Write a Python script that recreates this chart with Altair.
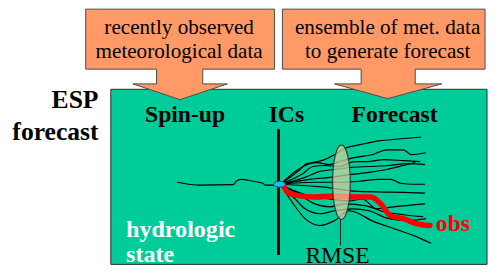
import altair as alt
import pandas as pd
import numpy as np

# ---------------- data (image pixel coordinates) ----------------
# orange call-out arrows (polygon outlines)
arrow_left_x = [87, 279, 279, 206, 206, 231, 183, 135, 159, 159, 87, 87]
arrow_left_y = [7, 7, 68, 68, 83, 83, 99, 83, 83, 68, 68, 7]
arrow_right_x = [287, 493, 493, 422, 422, 449, 394, 340, 367, 367, 287, 287]
arrow_right_y = [7, 7, 68, 68, 83, 83, 98, 83, 83, 68, 68, 7]

# green panel
panel = dict(x=112.5, x2=495, y=88.5, y2=266.5)

# spin-up trajectory
spin_x = [180, 203, 237, 240, 245, 257, 267, 270, 280, 284]
spin_y = [183, 186, 185.5, 182, 180, 182, 184, 186, 186, 185]

# ensemble traces (x list, y list)
ens = [
    ([285, 300, 310, 318, 330, 340, 352, 365, 385, 405, 428],
     [185, 172, 166, 163, 160, 155, 148, 145, 141, 139, 137]),
    ([285, 305, 312, 322, 335, 345, 360, 378, 393, 410, 418, 433],
     [185, 170, 164, 163, 165, 162, 158, 155, 150, 150, 155, 153]),
    ([285, 308, 318, 330, 345, 360, 373, 390, 410, 427],
     [185, 174, 167, 166, 167, 162, 162, 160, 161, 162]),
    ([285, 310, 325, 340, 355, 375, 395, 415, 432],
     [185, 178, 172, 170, 168, 167, 166, 164, 165]),
    ([285, 315, 335, 357, 375, 393, 410, 422],
     [185, 180, 178, 175, 173, 170, 166, 163]),
    ([285, 320, 345, 365, 385, 397, 407, 420, 432],
     [185, 183, 183, 182, 180, 180, 184, 185, 185]),
    ([285, 330, 360, 395, 432],
     [185, 188, 192, 193, 194]),
    ([285, 300, 315, 335, 355, 368, 383, 400, 432],
     [185, 192, 197, 200, 202, 200, 210, 208, 205]),
    ([285, 305, 320, 335, 350, 372, 390, 410, 430],
     [185, 196, 205, 208, 205, 207, 213, 216, 218]),
    ([285, 300, 310, 325, 340, 358, 375, 395, 415, 433],
     [185, 200, 210, 215, 212, 210, 212, 220, 222, 220]),
    ([285, 298, 310, 325, 340, 355, 380, 400, 420, 438],
     [185, 205, 220, 227, 222, 212, 223, 230, 237, 245]),
]

# observed trajectory
obs_x = [288, 292, 300, 320, 340, 360, 377, 387, 397, 410, 423, 437]
obs_y = [186, 193, 196, 198, 197, 198, 198, 205, 217, 220, 225, 227]

# ICs line, RMSE ellipse, initial state
ics_x, ics_y1, ics_y2 = 283, 129, 257
ell_cx, ell_cy, ell_rx, ell_ry = 347, 183, 9, 38
rmse_stem_y2 = 247
dot_cx, dot_cy = 284, 185
hatch_y = [150, 156, 162, 168, 174, 180, 186, 192, 198, 204, 210, 216]

# texts
box_text = ["recently observed", "meteorological data", "ensemble of met. data", "to generate forecast"]
box_text_x = [182, 182, 394, 394]
box_text_y = [32, 57, 32, 57]
esp_text = ["ESP", "forecast"]
esp_text_y = [108, 140]
phase_text = ["Spin-up", "ICs", "Forecast"]
phase_text_x = [188, 291, 401]
state_text = ["hydrologic", "state"]
state_text_y = [239, 264]

# ---------------- scales: data units == image pixels ----------------
X = lambda f="x": alt.X(f"{f}:Q", scale=alt.Scale(domain=[8, 496], range=[0, 488], nice=False, zero=False), axis=None)
Y = lambda f="y": alt.Y(f"{f}:Q", scale=alt.Scale(domain=[8, 267], range=[0, 259], nice=False, zero=False), axis=None)
FONT = "Liberation Serif"

# panel
panel_df = pd.DataFrame([panel])
panel_layer = alt.Chart(panel_df).mark_rect(fill="#00CC99", stroke="#2b2b2b", strokeWidth=1).encode(
    x=X(), x2="x2:Q", y=Y(), y2="y2:Q")

# arrows
arr_rows = []
for k, (xs, ys) in enumerate([(arrow_left_x, arrow_left_y), (arrow_right_x, arrow_right_y)]):
    for i, (a, b) in enumerate(zip(xs, ys)):
        arr_rows.append(dict(id=k, i=i, x=a, y=b))
arrow_layer = alt.Chart(pd.DataFrame(arr_rows)).mark_line(
    fill="#FF9966", stroke="#4a4a4a", strokeWidth=1, interpolate="linear-closed").encode(
    x=X(), y=Y(), detail="id:N", order="i:Q")

# ICs vertical line
ics_layer = alt.Chart(pd.DataFrame([dict(x=ics_x, y=ics_y1, y2=ics_y2)])).mark_rule(
    color="black", strokeWidth=3).encode(x=X(), y=Y(), y2="y2:Q")

# spin-up line
spin_layer = alt.Chart(pd.DataFrame(dict(x=spin_x, y=spin_y, i=range(len(spin_x))))).mark_line(
    color="black", strokeWidth=1.2, interpolate="monotone").encode(x=X(), y=Y(), order="i:Q")

# ensemble
ens_rows = []
for k, (xs, ys) in enumerate(ens):
    for i, (a, b) in enumerate(zip(xs, ys)):
        ens_rows.append(dict(id=k, i=i, x=a, y=b))
ens_layer = alt.Chart(pd.DataFrame(ens_rows)).mark_line(
    color="black", strokeWidth=1.2, interpolate="monotone").encode(
    x=X(), y=Y(), detail="id:N", order="i:Q")

# obs
obs_layer = alt.Chart(pd.DataFrame(dict(x=obs_x, y=obs_y, i=range(len(obs_x))))).mark_line(
    color="#FF0000", strokeWidth=5.5, interpolate="monotone", strokeCap="round").encode(
    x=X(), y=Y(), order="i:Q")

# RMSE ellipse
a = ell_rx / ell_ry
k = 0.5523
ell_path = (f"M0,-1 C{a*k:.4f},-1 {a:.4f},-{k} {a:.4f},0 C{a:.4f},{k} {a*k:.4f},1 0,1 "
            f"C-{a*k:.4f},1 -{a:.4f},{k} -{a:.4f},0 C-{a:.4f},-{k} -{a*k:.4f},-1 0,-1 Z")
ell_df = pd.DataFrame([dict(x=ell_cx, y=ell_cy)])
ell_layer = alt.Chart(ell_df).mark_point(
    shape=ell_path, size=(2 * ell_ry) ** 2, filled=True, fill="#E2D4A6", fillOpacity=0.68,
    stroke="#2f3f2f", strokeWidth=1.2, opacity=1).encode(x=X(), y=Y())

hy = np.array(hatch_y, dtype=float)
hw = ell_rx * np.sqrt(np.clip(1 - ((hy - ell_cy) / ell_ry) ** 2, 0, 1)) - 1
hatch_df = pd.DataFrame(dict(x=ell_cx - hw, x2=ell_cx + hw, y=hy))
hatch_layer = alt.Chart(hatch_df).mark_rule(color="#E8A878", strokeWidth=1, opacity=0.55).encode(
    x=X(), x2="x2:Q", y=Y())
vhatch_layer = alt.Chart(pd.DataFrame([dict(x=ell_cx, y=ell_cy - ell_ry + 3, y2=ell_cy + ell_ry - 3)])).mark_rule(
    color="#E8A878", strokeWidth=1, opacity=0.6).encode(x=X(), y=Y(), y2="y2:Q")

stem_layer = alt.Chart(pd.DataFrame([dict(x=ell_cx - 1, y=ell_cy + ell_ry, y2=rmse_stem_y2)])).mark_rule(
    color="#1a1a1a", strokeWidth=1).encode(x=X(), y=Y(), y2="y2:Q")

# initial-condition dot
dot_path = "M0,-0.5 C0.5523,-0.5 1,-0.276 1,0 C1,0.276 0.5523,0.5 0,0.5 C-0.5523,0.5 -1,0.276 -1,0 C-1,-0.276 -0.5523,-0.5 0,-0.5 Z"
dot_layer = alt.Chart(pd.DataFrame([dict(x=dot_cx, y=dot_cy)])).mark_point(
    shape=dot_path, size=144, filled=True, fill="#22BBEE", stroke="#1f4e79", strokeWidth=1, opacity=1).encode(
    x=X(), y=Y())

# texts
box_txt = alt.Chart(pd.DataFrame(dict(t=box_text, x=box_text_x, y=box_text_y))).mark_text(
    font=FONT, fontSize=21.5, color="black", align="center", baseline="alphabetic").encode(
    x=X(), y=Y(), text="t:N")
esp_txt = alt.Chart(pd.DataFrame(dict(t=esp_text, x=[100, 100], y=esp_text_y))).mark_text(
    font=FONT, fontSize=26, fontWeight="bold", color="black", align="right", baseline="alphabetic").encode(
    x=X(), y=Y(), text="t:N")
phase_txt = alt.Chart(pd.DataFrame(dict(t=phase_text, x=phase_text_x, y=[122] * 3))).mark_text(
    font=FONT, fontSize=24, fontWeight="bold", color="black", align="center", baseline="alphabetic").encode(
    x=X(), y=Y(), text="t:N")
rmse_txt = alt.Chart(pd.DataFrame(dict(t=["RMSE"], x=[343], y=[265]))).mark_text(
    font=FONT, fontSize=24, color="black", align="center", baseline="alphabetic").encode(
    x=X(), y=Y(), text="t:N")
obs_txt = alt.Chart(pd.DataFrame(dict(t=["obs"], x=[443], y=[233]))).mark_text(
    font=FONT, fontSize=24, fontWeight="bold", color="#FF0000", align="left", baseline="alphabetic").encode(
    x=X(), y=Y(), text="t:N")
state_txt = alt.Chart(pd.DataFrame(dict(t=state_text, x=[128, 128], y=state_text_y))).mark_text(
    font=FONT, fontSize=24.5, fontWeight="bold", color="white", align="left", baseline="alphabetic").encode(
    x=X(), y=Y(), text="t:N")

chart = alt.layer(
    panel_layer, arrow_layer, ics_layer, spin_layer, ens_layer, obs_layer,
    ell_layer, hatch_layer, vhatch_layer, stem_layer, dot_layer,
    box_txt, esp_txt, phase_txt, rmse_txt, obs_txt, state_txt,
).properties(width=488, height=259, autosize="none", padding=0, background="white"
).configure_view(stroke=None)

chart.save("out.html", embed_options={"renderer": "svg", "actions": False})
